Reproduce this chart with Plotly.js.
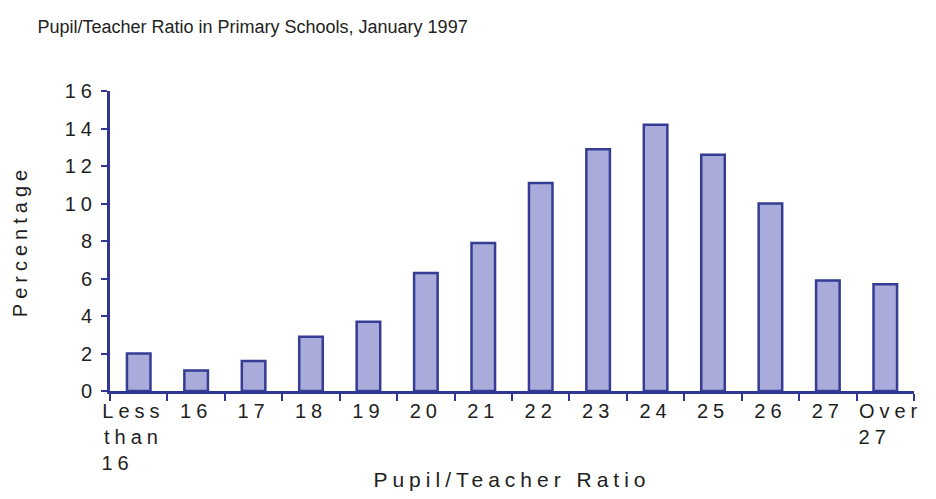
<!DOCTYPE html>
<html>
<head>
<meta charset="utf-8">
<script src="https://cdn.plot.ly/plotly-3.0.1.min.js"></script>
<style>
  html, body { margin: 0; padding: 0; background: #fff; }
  #chart { width: 936px; height: 499px; }
  text { letter-spacing: 5px; }
  .gtitle { letter-spacing: 0px; }
</style>
</head>
<body>
<div id="chart"></div>
<script>
// Categories (pupil/teacher ratio bands)
const categories = ["Less than 16", "16", "17", "18", "19", "20", "21", "22", "23", "24", "25", "26", "27", "Over 27"];
// Tick labels as drawn (multi-line, padded so the lines line up on the left)
const tickLabels = [
  "Less&nbsp;<br>than&nbsp;<br>16&nbsp;&nbsp;&nbsp;&nbsp;",
  "16", "17", "18", "19", "20", "21", "22", "23", "24", "25", "26", "27",
  "&nbsp;Over<br>&nbsp;27&nbsp;&nbsp;&nbsp;"
];
// Percentage of schools
const percentages = [2.0, 1.1, 1.6, 2.9, 3.7, 6.3, 7.9, 11.1, 12.9, 14.2, 12.6, 10.0, 5.9, 5.7];
const yTicks = [0, 2, 4, 6, 8, 10, 12, 14, 16];

const navy = "#2f3792";
const fontFamily = "'Liberation Sans', Arial, Helvetica, sans-serif";

const trace = {
  type: "bar",
  x: categories,
  y: percentages,
  marker: { color: "#a9abda", line: { color: "#363c94", width: 2.5 } },
  hoverinfo: "x+y"
};

const layout = {
  width: 936,
  height: 499,
  margin: { l: 110, r: 22, t: 91, b: 108, pad: 0 },
  paper_bgcolor: "#ffffff",
  plot_bgcolor: "#ffffff",
  showlegend: false,
  bargap: 0.59,
  font: { family: fontFamily, color: "#1e1e1e", size: 20 },
  title: {
    text: "Pupil/Teacher Ratio in Primary Schools, January 1997",
    font: { family: fontFamily, size: 18, color: "#222222" },
    x: 0.04, xanchor: "left", xref: "container",
    y: 0.947, yanchor: "middle", yref: "container"
  },
  xaxis: {
    type: "category",
    tickmode: "array",
    tickvals: categories,
    ticktext: tickLabels,
    tickangle: 0,
    tickson: "boundaries",
    ticks: "outside",
    ticklen: 7,
    tickwidth: 2,
    tickcolor: navy,
    showline: true,
    linecolor: navy,
    linewidth: 3,
    showgrid: false,
    zeroline: false,
    tickfont: { family: fontFamily, size: 20, color: "#1e1e1e" },
    title: {
      text: "Pupil/Teacher Ratio",
      font: { family: fontFamily, size: 21, color: "#1e1e1e" },
      standoff: 0
    },
    automargin: false
  },
  yaxis: {
    range: [0, 16],
    tickmode: "array",
    tickvals: yTicks,
    ticktext: yTicks.map(String),
    ticks: "outside",
    ticklen: 6,
    tickwidth: 2,
    tickcolor: navy,
    showline: true,
    linecolor: navy,
    linewidth: 3,
    showgrid: false,
    zeroline: false,
    tickfont: { family: fontFamily, size: 20, color: "#1e1e1e" },
    title: {
      text: "Percentage",
      font: { family: fontFamily, size: 20, color: "#1e1e1e" },
      standoff: 32
    },
    automargin: false
  }
};

Plotly.newPlot("chart", [trace], layout, { displayModeBar: false, staticPlot: true });
</script>
</body>
</html>
